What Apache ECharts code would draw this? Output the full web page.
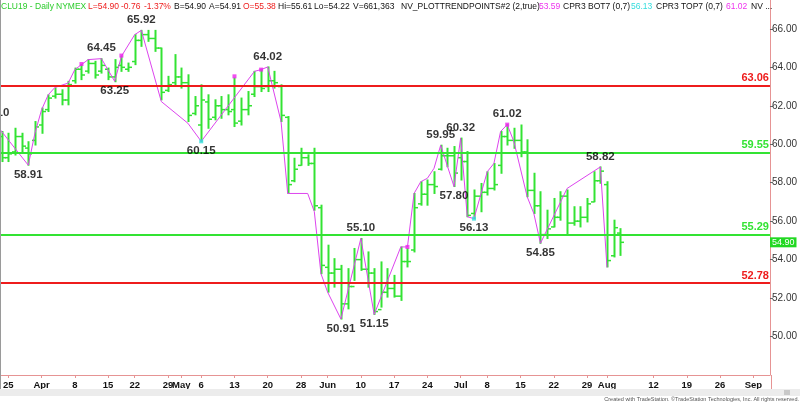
<!DOCTYPE html>
<html>
<head>
<meta charset="utf-8">
<script src="https://cdn.jsdelivr.net/npm/echarts@6.0.0/dist/echarts.min.js"></script>
<style>
html,body{margin:0;padding:0;background:#fff;}
#chart{width:800px;height:402px;}
</style>
</head>
<body>
<div id="chart"></div>
<script>
// ---- categories: trading days (2019) ----
const days = ['03-21','03-22','03-25','03-26','03-27','03-28','03-29',
'04-01','04-02','04-03','04-04','04-05','04-08','04-09','04-10','04-11','04-12','04-15','04-16','04-17','04-18','04-22','04-23','04-24','04-25','04-26','04-29','04-30',
'05-01','05-02','05-03','05-06','05-07','05-08','05-09','05-10','05-13','05-14','05-15','05-16','05-17','05-20','05-21','05-22','05-23','05-24','05-28','05-29','05-30','05-31',
'06-03','06-04','06-05','06-06','06-07','06-10','06-11','06-12','06-13','06-14','06-17','06-18','06-19','06-20','06-21','06-24','06-25','06-26','06-27','06-28',
'07-01','07-02','07-03','07-05','07-08','07-09','07-10','07-11','07-12','07-15','07-16','07-17','07-18','07-19','07-22','07-23','07-24','07-25','07-26','07-29','07-30','07-31',
'08-01','08-02','08-05','08-06','08-07','08-08','08-09','08-12','08-13','08-14','08-15','08-16','08-19','08-20','08-21','08-22','08-23','08-26','08-27','08-28','08-29','08-30',
'09-03','09-04','09-05'];

// ---- x tick labels ----
const tickDates  = ['03-25','04-01','04-08','04-15','04-22','04-29','05-01','05-06','05-13','05-20','05-28','06-03','06-10','06-17','06-24','07-01','07-08','07-15','07-22','07-29','08-01','08-12','08-19','08-26','09-03'];
const tickLabels = ['25','Apr','8','15','22','29','May','6','13','20','28','Jun','10','17','24','Jul','8','15','22','29','Aug','12','19','26','Sep'];

// ---- daily OHLC (aligned with days; null = no bar) ----
const opens = [null,
60.40,59.30,59.60,60.40,59.80,60.20,
61.00,61.80,62.50,62.60,62.30,63.30,63.90,63.80,64.20,63.80,63.90,63.50,64.10,63.90,64.30,65.40,65.70,65.50,65.00,62.80,63.20,
63.50,63.20,61.60,61.00,62.20,61.40,62.00,61.80,61.80,61.20,61.80,62.60,63.00,63.00,63.30,63.00,61.40,58.10,58.90,59.30,59.00,56.70,
53.60,53.30,53.50,51.70,52.60,54.00,53.50,53.30,51.40,52.30,52.50,52.10,53.90,54.50,56.90,57.40,57.90,58.70,59.40,59.40,
59.30,59.10,56.40,57.30,57.50,57.70,58.90,60.40,60.20,60.20,59.60,57.60,56.80,55.30,55.70,56.20,57.30,55.90,56.00,56.20,57.00,58.10,
57.90,54.20,55.38];
const highs = [null,
60.66,60.57,60.83,60.57,60.13,61.18,
61.88,62.57,62.92,62.83,63.27,63.96,64.14,64.40,64.31,64.45,63.96,64.40,64.57,64.22,65.70,65.92,65.92,65.92,65.00,63.53,64.66,
63.96,63.61,62.48,63.09,62.57,62.31,62.48,62.57,63.45,62.40,62.74,63.79,63.90,64.02,63.79,63.09,61.44,59.27,59.79,59.45,59.79,56.83,
54.75,54.05,53.70,53.53,54.58,55.10,54.40,53.53,53.88,53.53,53.18,54.66,54.58,57.44,58.05,58.14,58.57,59.95,59.79,59.88,
60.32,59.62,57.62,57.96,58.57,59.00,60.66,61.02,60.83,61.00,60.23,58.49,57.53,56.57,57.18,57.53,57.62,56.75,56.75,57.18,58.57,58.82,
58.05,56.05,55.61];
const lows = [null,
59.10,59.10,59.44,59.61,58.91,59.96,
60.57,61.70,62.40,62.05,62.05,63.18,63.36,63.70,63.44,63.70,63.36,63.25,63.79,63.79,64.14,65.09,65.35,64.83,62.31,62.74,63.09,
62.92,61.18,61.53,60.15,60.83,61.27,61.35,61.53,60.92,61.00,61.53,62.48,62.74,62.74,62.92,61.18,57.44,58.05,58.91,58.90,56.57,53.27,
52.31,52.57,50.91,51.44,52.92,53.44,52.57,51.15,51.53,52.05,52.05,51.88,53.62,54.40,56.83,56.83,57.44,58.66,58.83,57.80,
58.14,56.23,56.13,56.49,57.36,57.62,58.49,59.96,59.79,59.35,57.27,56.40,54.85,55.10,55.70,56.05,55.27,55.79,55.70,55.96,57.01,57.97,
53.62,54.14,54.22];
const closes = [null,
59.30,59.50,60.40,59.90,59.50,60.90,
61.70,62.40,62.60,62.30,63.10,63.90,63.60,64.20,63.60,64.10,63.50,64.00,64.00,64.00,65.40,65.70,65.50,65.00,62.70,63.10,63.50,
63.20,61.50,62.00,62.30,61.30,62.00,61.80,61.70,61.10,61.80,62.00,63.00,62.90,63.30,63.20,61.50,57.90,58.70,59.30,59.00,56.80,53.70,
53.30,53.50,51.70,52.60,54.00,53.50,53.30,51.30,52.30,52.50,52.10,53.90,53.90,56.70,57.40,57.90,57.80,59.40,59.40,58.50,
59.10,56.30,57.30,57.50,57.70,57.90,60.40,60.20,60.20,59.60,57.60,56.80,55.30,55.60,56.20,57.30,55.90,56.00,56.20,56.90,58.10,58.60,
53.95,55.66,54.90];

// ---- NV_PLOTTRENDPOINTS swing line ----
const trendDates  = ['03-21','03-28','03-29','04-01','04-02','04-03','04-05','04-08','04-09','04-10','04-12','04-16','04-17','04-22','04-23','04-26','05-02','05-06','05-16','05-17','05-20','05-22','05-23','05-29','05-30','05-31','06-03','06-05','06-10','06-12','06-18','06-19','06-20','06-21','06-24','06-25','06-26','06-28','07-01','07-02','07-03','07-08','07-09','07-10','07-11','07-12','07-16','07-17','07-18','07-24','07-31','08-01'];
const trendValues = [61.10,58.91,60.57,61.79,62.57,62.95,63.18,63.88,64.14,64.40,64.45,63.27,64.57,65.70,65.92,62.22,61.09,60.15,63.79,63.88,64.02,61.18,57.44,57.44,56.50,53.27,52.31,50.91,55.10,51.15,54.66,54.66,57.44,58.05,58.23,58.75,59.95,57.80,60.32,56.23,56.13,58.57,59.00,60.66,61.02,60.14,57.27,56.40,54.85,57.70,58.82,53.59];

// swing highs / lows labelled
const pivotHighDates  = ['03-21','04-12','04-23','05-20','06-10','06-26','07-01','07-11','07-31'];
const pivotHighValues = [61.10,64.45,65.92,64.02,55.10,59.95,60.32,61.02,58.82];
const pivotLowDates   = ['03-28','04-16','05-06','06-05','06-12','06-28','07-03','07-18'];
const pivotLowValues  = [58.91,63.25,60.15,50.91,51.15,57.80,56.13,54.85];

// trend point markers
const trendDotDates  = ['04-09','04-17','05-13','05-17','06-19','07-11'];
const trendDotValues = [64.17,64.61,63.53,63.88,54.66,61.02];
const cprDotDates    = ['05-06','07-03'];
const cprDotValues   = [60.15,56.13];

// horizontal levels
const redLevels   = [63.06, 52.78];
const greenLevels = [59.55, 55.29];
const lastPrice   = 54.90;

// y axis ticks
const yMin = 48, yMax = 67.5, yStep = 2;

// ---- build ----
const GREEN = '#33e333', RED = '#ee1c1c', MAGENTA = '#dd44ee', PINK = '#e69494';
const FONT = 'Arial, "Liberation Sans", sans-serif';

const tickIdx = tickDates.map(d => days.indexOf(d));
const dayIdx = d => days.indexOf(d);

const ohlcData = [];
days.forEach((d, i) => {
  if (opens[i] != null) ohlcData.push([i, opens[i], highs[i], lows[i], closes[i]]);
});

function renderOHLC(params, api) {
  const i = api.value(0);
  const o = api.coord([i, api.value(1)]);
  const h = api.coord([i, api.value(2)]);
  const l = api.coord([i, api.value(3)]);
  const c = api.coord([i, api.value(4)]);
  const x = Math.round(o[0]) + 0.5;
  return {
    type: 'group',
    children: [
      { type: 'line', shape: { x1: x, y1: h[1] - 0.5, x2: x, y2: l[1] + 0.5 }, style: { stroke: GREEN, lineWidth: 2 } },
      { type: 'line', shape: { x1: x - 3.5, y1: o[1], x2: x, y2: o[1] }, style: { stroke: GREEN, lineWidth: 1.5 } },
      { type: 'line', shape: { x1: x, y1: c[1], x2: x + 3.5, y2: c[1] }, style: { stroke: GREEN, lineWidth: 1.5 } }
    ]
  };
}

const pair = (ds, vs) => ds.map((d, i) => [dayIdx(d), vs[i]]);

const levelLines = [];
redLevels.forEach(v => levelLines.push({ yAxis: v, lineStyle: { color: RED }, label: { color: RED } }));
greenLevels.forEach(v => levelLines.push({ yAxis: v, lineStyle: { color: GREEN }, label: { color: GREEN } }));

const pivotLabel = {
  show: true, fontFamily: FONT, fontSize: 11.5, fontWeight: 'bold', color: '#000',
  formatter: p => p.value[1].toFixed(2)
};

const headerItems = [
  [0, 'CLU19 - Daily', '#2ccc2c'], [55, 'NYMEX', '#2ccc2c'],
  [87, 'L=54.90', RED], [120, '-0.76', RED], [143, '-1.37%', RED],
  [173, 'B=54.90', '#111'], [208, 'A=54.91', '#111'], [242, 'O=55.38', RED],
  [277, 'Hi=55.61', '#111'], [313, 'Lo=54.22', '#111'], [352, 'V=661,363', '#111'],
  [400, 'NV_PLOTTRENDPOINTS#2 (2,true)', '#111'], [538, '53.59', '#ee33ee'],
  [562, 'CPR3 BOT7 (0,7)', '#111'], [630, '56.13', '#33dddd'],
  [655, 'CPR3 TOP7 (0,7)', '#111'], [725, '61.02', '#ee33ee'], [750, 'NV ...', '#111']
];

const graphics = [
  { type: 'rect', shape: { x: 0, y: 0, width: 1, height: 389 }, style: { fill: '#9a9a9a' }, z: 100 },
  { type: 'rect', shape: { x: 0, y: 389, width: 800, height: 7 }, style: { fill: '#ececec' }, z: 100 },
  { type: 'rect', shape: { x: 784, y: 390, width: 6, height: 5 }, style: { fill: '#c8c8c8' }, z: 101 },
  { type: 'line', shape: { x1: 771.5, y1: 375, x2: 771.5, y2: 389 }, style: { stroke: PINK, lineWidth: 1 }, z: 100 },
  { type: 'text', z: 100, style: { x: 799, y: 396.5, text: 'Created with TradeStation. \u00a9TradeStation Technologies, Inc. All rights reserved.',
      font: '5.5px ' + FONT, fill: '#555', align: 'right', verticalAlign: 'top' } }
];
headerItems.forEach(([x, t, c]) => graphics.push({
  type: 'text', z: 100, style: { x: x + 1, y: 2, text: t, font: '8.5px ' + FONT, fill: c, verticalAlign: 'top' }
}));

const option = {
  animation: false,
  backgroundColor: '#fff',
  grid: { left: 0, right: 28.33, top: 0, bottom: 27, containLabel: false },
  xAxis: {
    type: 'value', min: 0.75, max: 116.5,
    axisLine: { show: true, onZero: false, lineStyle: { color: PINK, width: 1 } },
    axisTick: { show: true, length: 3, lineStyle: { color: PINK }, customValues: tickIdx },
    axisLabel: { show: true, customValues: tickIdx, showMinLabel: true, showMaxLabel: true,
      formatter: v => { const k = tickIdx.indexOf(Math.round(v)); return k >= 0 ? tickLabels[k] : ''; },
      fontFamily: FONT, fontSize: 9.5, fontWeight: 'bold', color: '#111', margin: 5 },
    splitLine: { show: false }
  },
  yAxis: {
    type: 'value', position: 'right', min: yMin, max: yMax, interval: yStep,
    axisLine: { show: true, lineStyle: { color: PINK, width: 1 } },
    axisTick: { show: true, length: 3, lineStyle: { color: '#666' } },
    axisLabel: { fontFamily: FONT, fontSize: 10, color: '#333', margin: 2,
      showMinLabel: false, showMaxLabel: false, formatter: v => v.toFixed(2) },
    splitLine: { show: false }
  },
  graphic: graphics,
  series: [
    {
      type: 'custom', name: 'bars', renderItem: renderOHLC, data: ohlcData, clip: true,
      encode: { x: 0, y: [1, 2, 3, 4] }, z: 2
    },
    {
      type: 'line', name: 'trend', data: pair(trendDates, trendValues), symbol: 'none',
      lineStyle: { color: MAGENTA, width: 1 }, z: 4, clip: false,
      markLine: {
        silent: true, symbol: ['none', 'none'], animation: false,
        lineStyle: { type: 'solid', width: 2 },
        label: { position: 'insideEndTop', distance: [1, 2], fontFamily: FONT, fontSize: 11, fontWeight: 'bold',
          formatter: p => p.value.toFixed(2) },
        data: levelLines
      }
    },
    {
      type: 'line', name: 'last', data: [], symbol: 'none', z: 8,
      markLine: {
        silent: true, symbol: ['none', 'none'], animation: false,
        lineStyle: { type: 'solid', width: 0, color: 'rgba(0,0,0,0)' },
        label: { show: true, position: 'end', distance: 0, color: '#fff', backgroundColor: '#22d822',
          fontFamily: FONT, fontSize: 9, padding: [1, 2, 0, 2], formatter: p => p.value.toFixed(2) },
        data: [{ yAxis: lastPrice }]
      }
    },
    {
      type: 'scatter', name: 'highs', data: pair(pivotHighDates, pivotHighValues), symbolSize: 1, clip: false,
      itemStyle: { color: 'rgba(0,0,0,0)' }, label: Object.assign({ position: 'top', distance: 4 }, pivotLabel), z: 6
    },
    {
      type: 'scatter', name: 'lows', data: pair(pivotLowDates, pivotLowValues), symbolSize: 1, clip: false,
      itemStyle: { color: 'rgba(0,0,0,0)' }, label: Object.assign({ position: 'bottom', distance: 3 }, pivotLabel), z: 6
    },
    {
      type: 'scatter', name: 'trendDots', data: pair(trendDotDates, trendDotValues), symbol: 'rect', symbolSize: 4,
      itemStyle: { color: '#ee22ee' }, z: 7
    },
    {
      type: 'scatter', name: 'cprDots', data: pair(cprDotDates, cprDotValues), symbol: 'rect', symbolSize: 4,
      itemStyle: { color: '#33dddd' }, z: 7
    }
  ]
};

const chart = echarts.init(document.getElementById('chart'), null, { renderer: 'canvas' });
chart.setOption(option);
</script>
</body>
</html>
